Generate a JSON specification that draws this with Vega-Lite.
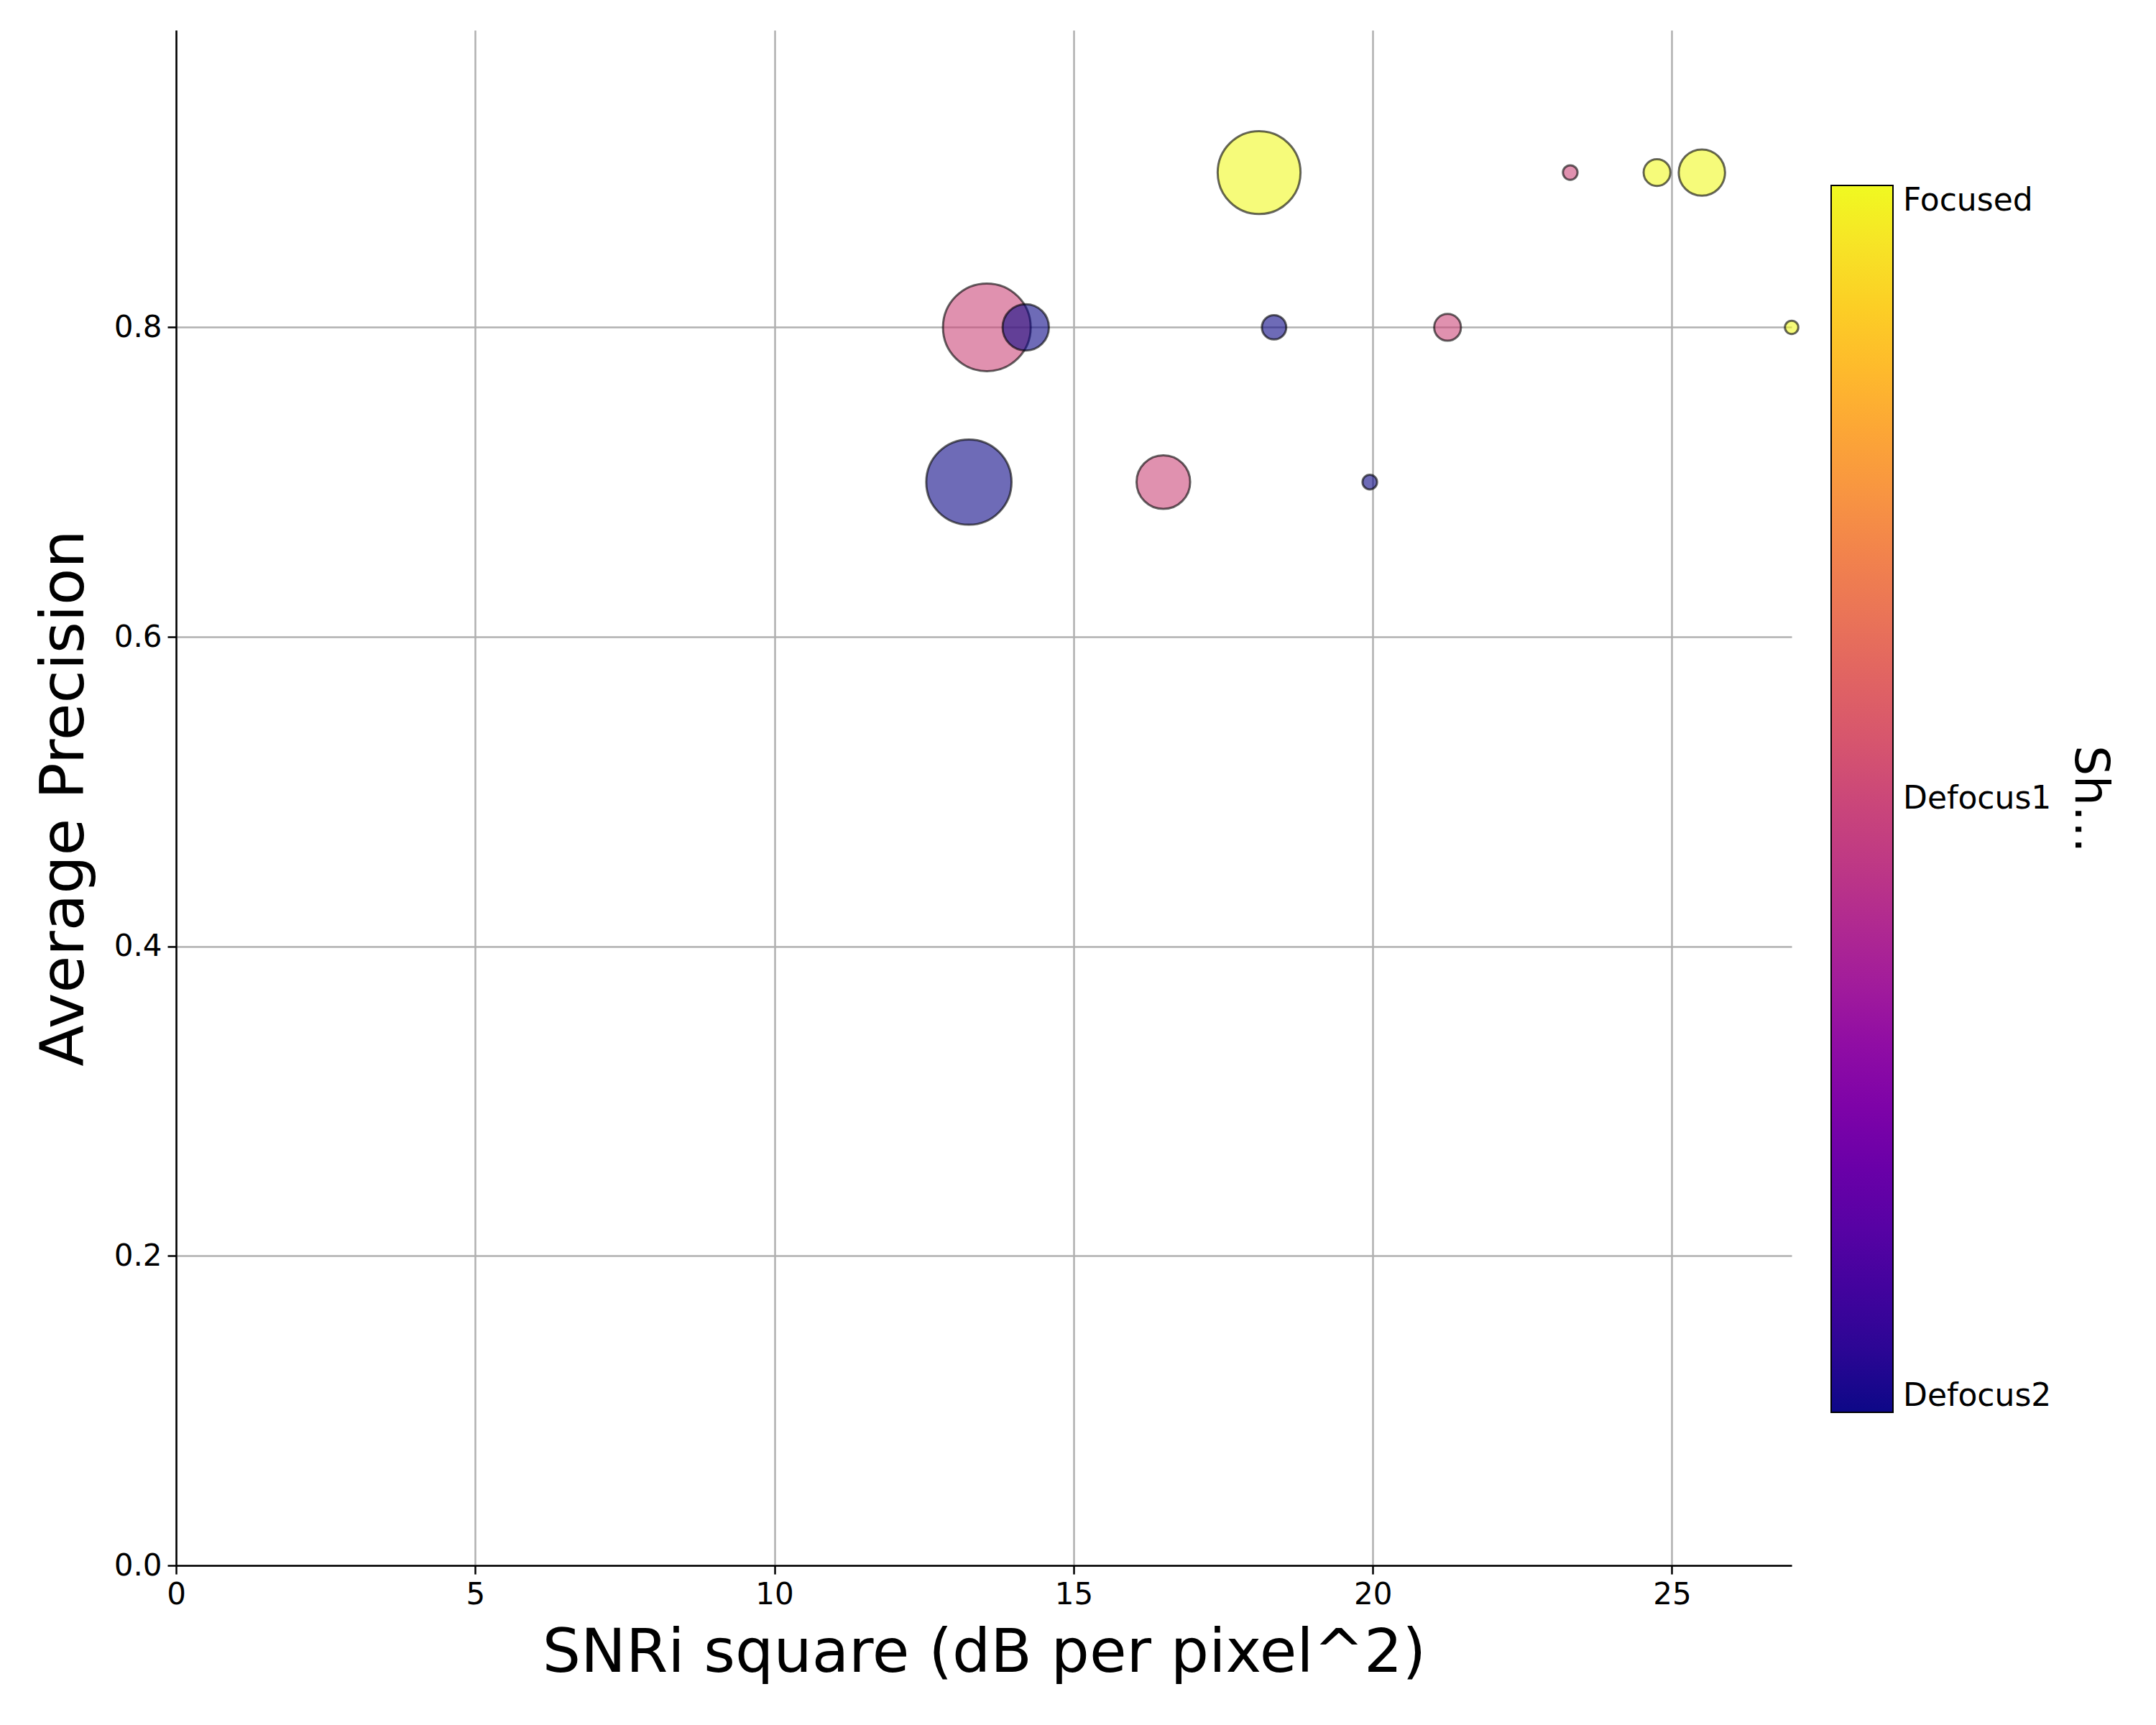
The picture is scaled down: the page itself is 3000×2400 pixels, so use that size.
{
"$schema":"https://vega.github.io/schema/vega-lite/v6.json",
"width":2248,"height":2136,
"autosize":{"type":"none"},
"padding":{"left":245,"top":42,"right":507,"bottom":222},
"background":"white",
"config":{"view":{"stroke":null},"font":"DejaVu Sans"},
"data":{"values":[
{"snr":18.1,"ap":0.9,"n":1156,"sharp":2},
{"snr":23.3,"ap":0.9,"n":36,"sharp":1},
{"snr":24.75,"ap":0.9,"n":121,"sharp":2},
{"snr":25.5,"ap":0.9,"n":361,"sharp":2},
{"snr":13.55,"ap":0.8,"n":1296,"sharp":1},
{"snr":14.2,"ap":0.8,"n":361,"sharp":0},
{"snr":18.35,"ap":0.8,"n":100,"sharp":0},
{"snr":21.25,"ap":0.8,"n":121,"sharp":1},
{"snr":27.0,"ap":0.8,"n":30,"sharp":2},
{"snr":13.25,"ap":0.7,"n":1225,"sharp":0},
{"snr":16.5,"ap":0.7,"n":484,"sharp":1},
{"snr":19.95,"ap":0.7,"n":36,"sharp":0}
]},
"mark":{"type":"circle","fillOpacity":0.6,"stroke":"black","strokeOpacity":0.6,"strokeWidth":3},
"encoding":{
"x":{"field":"snr","type":"quantitative","scale":{"domain":[0,27],"nice":false,"zero":false},
"axis":{"values":[0,5,10,15,20,25],"title":"SNRi square (dB per pixel^2)","titleFontSize":84,"titleFontWeight":"normal","labelFontSize":42,"titlePadding":20,"labelPadding":8,"domainColor":"black","domainWidth":2.5,"tickColor":"black","tickWidth":2.5,"tickSize":12,"gridColor":"#b0b0b0","gridWidth":2.5,"labelColor":"black","titleColor":"black","labelFlush":false}},
"y":{"field":"ap","type":"quantitative","scale":{"domain":[0,0.992],"nice":false},
"axis":{"values":[0,0.2,0.4,0.6,0.8],"format":".1f","title":"Average Precision","titleFontSize":84,"titleFontWeight":"normal","labelFontSize":42,"titlePadding":25,"labelPadding":8,"domainColor":"black","domainWidth":2.5,"tickColor":"black","tickWidth":2.5,"tickSize":12,"gridColor":"#b0b0b0","gridWidth":2.5,"labelColor":"black","titleColor":"black","labelFlush":false}},
"size":{"field":"n","type":"quantitative","scale":{"domain":[0,1296],"range":[0,14900]},"legend":null},
"color":{"field":"sharp","type":"quantitative","scale":{"scheme":"plasma","domain":[0,2]},
"legend":{"orient":"none","legendX":2303,"legendY":216,"direction":"vertical","gradientLength":1707,"gradientThickness":86,"gradientStrokeColor":"black","gradientStrokeWidth":2,"values":[0,1,2],"labelExpr":"datum.value==0?'Defocus2':datum.value==1?'Defocus1':'Focused'","labelFontSize":44,"labelColor":"black","labelOffset":14,"title":"Sharpness","titleOrient":"right","titleAngle":270,"titleFontSize":66,"titleFontWeight":"normal","titleColor":"black","titleAnchor":"middle","titlePadding":20}}
}
}
